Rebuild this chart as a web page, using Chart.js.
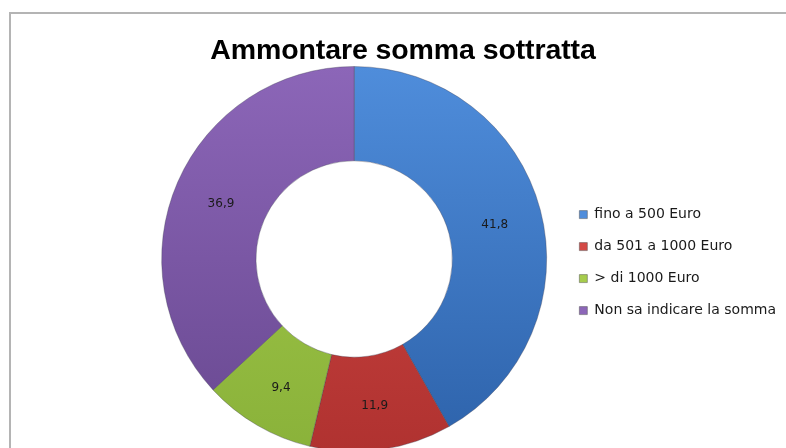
<!DOCTYPE html>
<html>
<head>
<meta charset="utf-8">
<script src="https://cdn.jsdelivr.net/npm/chart.js@4/dist/chart.umd.min.js"></script>
<style>
  html, body { margin: 0; padding: 0; background: #fff; }
  body { width: 786px; height: 448px; overflow: hidden; position: relative; }
  #cornice { position: absolute; left: 9px; top: 12px; width: 800px; height: 480px; border: 2px solid #b4b4b4; box-sizing: border-box; }
  #box { position: absolute; left: 0; top: 0; width: 786px; height: 460px; }
  #titolo { position: absolute; left: 0; top: 33px; width: 806px; text-align: center;
            font: bold 28.5px "Liberation Sans", Arial, sans-serif; color: #000; letter-spacing: -0.1px; }
</style>
</head>
<body>
<div id="cornice"></div>
<div id="box"><canvas id="grafico"></canvas></div>
<div id="titolo">Ammontare somma sottratta</div>
<script>
// dati
const categorie = ['fino a 500 Euro', 'da 501 a 1000 Euro', '> di 1000 Euro', 'Non sa indicare la somma'];
const valori = [41.8, 11.9, 9.4, 36.9];
const coloriChiari = ['#4f8ddb', '#d44a46', '#a6cc4c', '#8c66b8'];
const coloriScuri = ['#2d62aa', '#b03230', '#8ab23a', '#684890'];

// sfumatura verticale stile Excel
function sfumatura(ctx) {
  const chart = ctx.chart;
  const area = chart.chartArea;
  const i = ctx.dataIndex;
  if (!area) return coloriChiari[i];
  const g = chart.ctx.createLinearGradient(0, area.top, 0, area.bottom);
  g.addColorStop(0, coloriChiari[i]);
  g.addColorStop(1, coloriScuri[i]);
  return g;
}

// etichette dei valori al centro di ogni settore
const etichette = {
  id: 'etichette',
  afterDatasetsDraw(chart) {
    const c = chart.ctx;
    const meta = chart.getDatasetMeta(0);
    c.save();
    c.font = '12px "DejaVu Sans"';
    c.fillStyle = '#1a1a1a';
    c.textAlign = 'center';
    c.textBaseline = 'middle';
    meta.data.forEach((arc, i) => {
      const p = arc.tooltipPosition();
      c.fillText(valori[i].toFixed(1).replace('.', ','), p.x, p.y + 3);
    });
    c.restore();
  }
};

new Chart(document.getElementById('grafico'), {
  type: 'doughnut',
  data: {
    labels: categorie,
    datasets: [{
      data: valori,
      backgroundColor: sfumatura,
      borderColor: 'rgba(60,60,80,0.35)',
      borderWidth: 1
    }]
  },
  options: {
    responsive: true,
    maintainAspectRatio: false,
    animation: false,
    cutout: '51%',
    layout: { padding: { left: 147, right: 0, top: 66, bottom: 8 } },
    plugins: {
      title: { display: false },
      legend: {
        position: 'right',
        title: { display: true, text: '', color: '#1a1a1a', font: { size: 6 }, padding: 0 },
        labels: {
          color: '#1a1a1a',
          font: { family: '"DejaVu Sans"', size: 14 },
          boxWidth: 8,
          boxHeight: 8,
          padding: 18,
          generateLabels(chart) {
            return categorie.map((t, i) => ({
              text: t,
              fillStyle: coloriChiari[i],
              strokeStyle: '#555',
              fontColor: '#1a1a1a',
              lineWidth: 0.5,
              index: i,
              hidden: false
            }));
          }
        }
      },
      tooltip: { enabled: false }
    }
  },
  plugins: [etichette]
});
</script>
</body>
</html>
